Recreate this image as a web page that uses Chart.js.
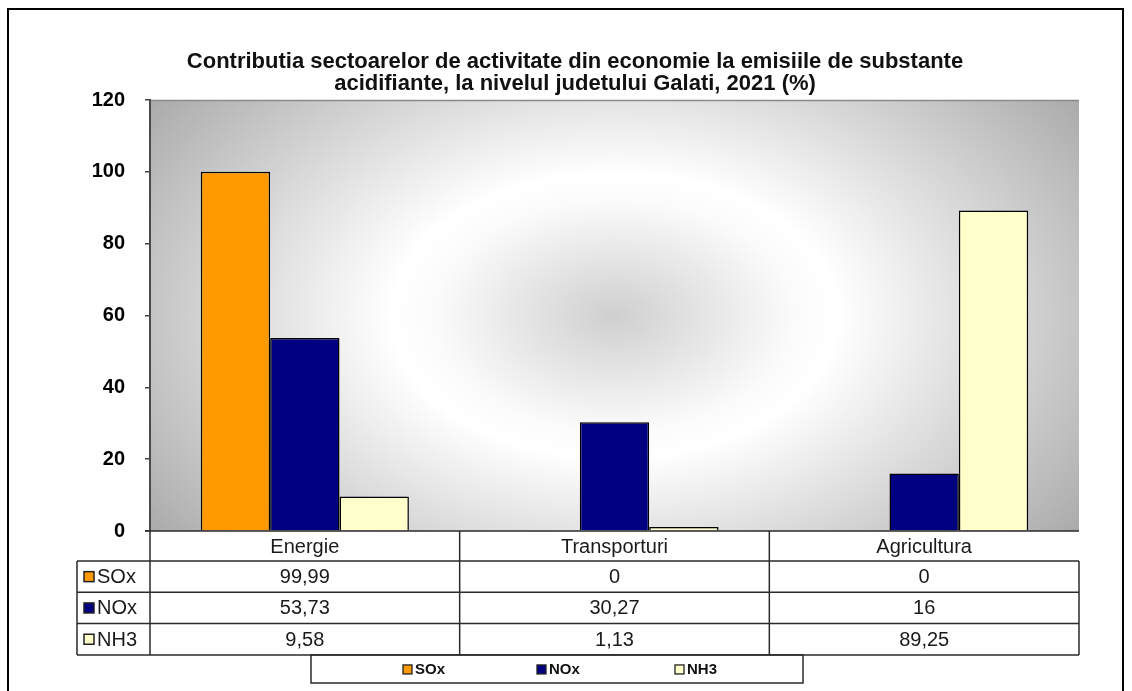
<!DOCTYPE html>
<html>
<head>
<meta charset="utf-8">
<title>Contributia sectoarelor la emisiile de substante acidifiante</title>
<script src="https://cdn.jsdelivr.net/npm/chart.js@4.4.1/dist/chart.umd.min.js"></script>
<style>
  html, body { margin: 0; padding: 0; background: #ffffff; }
  #wrap { width: 1132px; height: 691px; position: relative; }
</style>
</head>
<body>
<div id="wrap"><canvas id="chart" width="1132" height="691"></canvas></div>
<script>
// Sectors (categories) and the share of each pollutant, in %
const categories = ['Energie', 'Transporturi', 'Agricultura'];
const seriesNames = ['SOx', 'NOx', 'NH3'];
const soxValues = [99.99, 0, 0];
const noxValues = [53.73, 30.27, 16];
const nh3Values = [9.58, 1.13, 89.25];
const yTickValues = [0, 20, 40, 60, 80, 100, 120];
const titleLines = [
  'Contributia sectoarelor de activitate din economie la emisiile de substante',
  'acidifiante, la nivelul judetului Galati, 2021 (%)'
];

const seriesColors = ['#FF9900', '#000080', '#FFFFCC'];
const FONT = "'Liberation Sans', Arial, Helvetica, sans-serif";

// Romanian number format: decimal comma
function fmt(v) { return String(v).replace('.', ','); }

// Radial "from centre" fill of the plot wall
const wallPlugin = {
  id: 'wall',
  beforeDraw(chart) {
    const { ctx, chartArea: a } = chart;
    ctx.save();
    ctx.fillStyle = '#ffffff';
    ctx.fillRect(0, 0, chart.width, chart.height);
    ctx.beginPath();
    ctx.rect(a.left, a.top, a.right - a.left, a.bottom - a.top);
    ctx.clip();
    ctx.translate((a.left + a.right) / 2, (a.top + a.bottom) / 2);
    ctx.scale(1, 0.64);
    const g = ctx.createRadialGradient(0, 0, 0, 0, 0, 600);
    g.addColorStop(0, '#cfcfcf');
    g.addColorStop(0.3, '#fbfbfb');
    g.addColorStop(0.37, '#ffffff');
    g.addColorStop(1, '#a4a4a4');
    ctx.fillStyle = g;
    ctx.fillRect(-800, -800, 1600, 1600);
    ctx.restore();

    // upper edge of the wall
    ctx.save();
    ctx.strokeStyle = '#8a8a8a';
    ctx.lineWidth = 1.5;
    ctx.beginPath();
    ctx.moveTo(a.left, a.top + 0.5);
    ctx.lineTo(a.right, a.top + 0.5);
    ctx.stroke();
    ctx.restore();
  }
};

// Frame, title, data table under the axis and the bottom legend
const decorPlugin = {
  id: 'decor',
  afterDraw(chart) {
    const { ctx, chartArea: a } = chart;
    const xs = chart.scales.x;
    const colW = (a.right - a.left) / categories.length;
    const lineCol = '#2b2b2b';

    ctx.save();
    // outer frame
    ctx.strokeStyle = '#000';
    ctx.lineWidth = 2;
    ctx.strokeRect(8, 9, 1115, 720);

    // title
    ctx.fillStyle = '#111';
    ctx.font = 'bold 22px ' + FONT;
    ctx.textAlign = 'center';
    ctx.textBaseline = 'alphabetic';
    ctx.fillText(titleLines[0], 575, 68);
    ctx.fillText(titleLines[1], 575, 90);

    // data table
    const headTop = a.bottom;
    const rowTop = 561;
    const rowH = 31.3;
    const tableBottom = rowTop + rowH * 3;
    const labelLeft = 77;

    ctx.strokeStyle = lineCol;
    ctx.lineWidth = 1.5;
    ctx.beginPath();
    // axis / header top
    ctx.moveTo(a.left - 5, headTop); ctx.lineTo(a.right, headTop);
    // horizontal rules
    for (let r = 0; r <= 3; r++) {
      const y = rowTop + rowH * r;
      ctx.moveTo(labelLeft, y); ctx.lineTo(a.right, y);
    }
    // left label column
    ctx.moveTo(labelLeft, rowTop); ctx.lineTo(labelLeft, tableBottom);
    // column separators
    for (let c = 0; c <= categories.length; c++) {
      const x = a.left + colW * c;
      ctx.moveTo(x, c === categories.length ? rowTop : headTop);
      ctx.lineTo(x, tableBottom);
    }
    ctx.stroke();

    ctx.fillStyle = '#1a1a1a';
    ctx.font = '20px ' + FONT;
    ctx.textAlign = 'center';
    ctx.textBaseline = 'middle';
    categories.forEach((cat, i) => {
      ctx.fillText(cat, xs.getPixelForValue(i), (headTop + rowTop) / 2 + 1);
    });

    const rows = [soxValues, noxValues, nh3Values];
    rows.forEach((vals, r) => {
      const cy = rowTop + rowH * r + rowH / 2 + 1;
      vals.forEach((v, i) => {
        ctx.fillStyle = '#1a1a1a';
        ctx.textAlign = 'center';
        ctx.fillText(fmt(v), xs.getPixelForValue(i), cy);
      });
      // row key
      ctx.fillStyle = seriesColors[r];
      ctx.fillRect(84, cy - 6, 10, 10);
      ctx.strokeStyle = '#222';
      ctx.lineWidth = 1.5;
      ctx.strokeRect(84, cy - 6, 10, 10);
      ctx.fillStyle = '#1a1a1a';
      ctx.textAlign = 'left';
      ctx.fillText(seriesNames[r], 97, cy);
    });

    // bottom legend box
    const lgTop = tableBottom, lgBottom = 683;
    ctx.strokeStyle = lineCol;
    ctx.lineWidth = 1.5;
    ctx.strokeRect(311, lgTop, 492, lgBottom - lgTop);
    const keyX = [403, 537, 675];
    const ly = (lgTop + lgBottom) / 2 + 1;
    ctx.font = 'bold 15px ' + FONT;
    ctx.textAlign = 'left';
    seriesNames.forEach((name, i) => {
      ctx.fillStyle = seriesColors[i];
      ctx.fillRect(keyX[i], ly - 5, 9, 9);
      ctx.strokeStyle = '#222';
      ctx.lineWidth = 1.3;
      ctx.strokeRect(keyX[i], ly - 5, 9, 9);
      ctx.fillStyle = '#111';
      ctx.fillText(name, keyX[i] + 12, ly);
    });
    ctx.restore();
  }
};

const chart = new Chart(document.getElementById('chart'), {
  type: 'bar',
  data: {
    labels: categories,
    datasets: [
      { label: seriesNames[0], data: soxValues, backgroundColor: seriesColors[0] },
      { label: seriesNames[1], data: noxValues, backgroundColor: seriesColors[1] },
      { label: seriesNames[2], data: nh3Values, backgroundColor: seriesColors[2] }
    ]
  },
  options: {
    responsive: false,
    animation: false,
    devicePixelRatio: 1,
    layout: { padding: { left: 0, top: 100, right: 53, bottom: 160 } },
    datasets: {
      bar: {
        categoryPercentage: 0.672,
        barPercentage: 1.0,
        borderColor: '#000000',
        borderWidth: 1.5
      }
    },
    plugins: {
      legend: { display: false },
      title: { display: false },
      tooltip: { enabled: false }
    },
    scales: {
      x: { display: false },
      y: {
        min: 0,
        max: 120,
        afterBuildTicks(scale) { scale.ticks = yTickValues.map(v => ({ value: v })); },
        afterFit(scale) { scale.width = 150; },
        ticks: {
          color: '#000',
          padding: 20,
          font: { family: FONT, size: 20, weight: 'bold' }
        },
        grid: {
          drawOnChartArea: false,
          drawTicks: true,
          tickLength: 5,
          color: '#444',
          lineWidth: 1.5
        },
        border: { display: true, color: '#4a4a4a', width: 2 }
      }
    }
  },
  plugins: [wallPlugin, decorPlugin]
});
</script>
</body>
</html>
